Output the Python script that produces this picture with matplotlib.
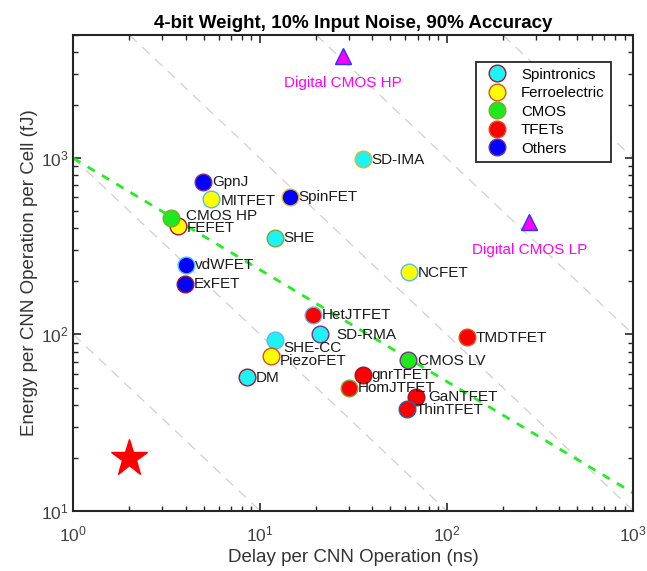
import numpy as np
import matplotlib
matplotlib.use("Agg")
import matplotlib.pyplot as plt
from matplotlib.lines import Line2D

plt.rcParams['font.family'] = ['Liberation Sans', 'DejaVu Sans']
plt.rcParams['mathtext.default'] = 'regular'

# device data: delay (ns), energy (fJ)
names = ['SHE', 'SHE-CC', 'SD-RMA', 'DM', 'SD-IMA',
         'MITFET', 'FEFET', 'PiezoFET', 'NCFET',
         'CMOS HP', 'CMOS LV',
         'HetJTFET', 'TMDTFET', 'gnrTFET', 'HomJTFET', 'GaNTFET', 'ThinTFET',
         'GpnJ', 'SpinFET', 'vdWFET', 'ExFET']
delay = [12.0, 12.0, 21.1, 8.5, 35.5,
         5.47, 3.65, 11.5, 63.0,
         3.34, 62.3,
         19.2, 128, 35.5, 30.0, 68.5, 61.5,
         4.97, 14.4, 4.01, 3.97]
energy = [354, 92.5, 100, 57, 987,
          585, 412, 75, 226,
          459, 71.8,
          129, 96.6, 58.5, 50, 44.4, 37.8,
          736, 603, 249, 194]
category = ['Spintronics'] * 5 + ['Ferroelectric'] * 4 + ['CMOS'] * 2 + ['TFETs'] * 6 + ['Others'] * 4

categories = ['Spintronics', 'Ferroelectric', 'CMOS', 'TFETs', 'Others']
cat_colors = {'Spintronics': '#1ef2f2', 'Ferroelectric': '#ffff00', 'CMOS': '#1de91d',
              'TFETs': '#ff0000', 'Others': '#0000ff'}

digital_names = ['Digital CMOS HP', 'Digital CMOS LP']
digital_delay = [27.9, 277]
digital_energy = [3820, 433]

target_delay = 2.0
target_energy = 20.0

# guide lines
edp_levels = [1e2, 1e3, 1e4, 1e5, 1e6]
fit_x = [1, 1000]
fit_y = [1000, 12.6]

# MATLAB colour order used for marker edges
mc = [(0, 0.447, 0.741), (0.85, 0.325, 0.098), (0.929, 0.694, 0.125),
      (0.494, 0.184, 0.556), (0.466, 0.674, 0.188), (0.301, 0.745, 0.933),
      (0.635, 0.078, 0.184)]
edge_idx = [4, 5, 3, 6, 2,
            5, 6, 1, 5,
            4, 3,
            5, 1, 6, 4, 6, 0,
            3, 2, 5, 6]
legend_edge = [6, 1, 4, 1, 3]

# label offsets in points (dx, dy)
offsets = {'GpnJ': (6.5, 0), 'MITFET': (7, -1), 'SpinFET': (6.5, 0), 'CMOS HP': (11, 1),
           'FEFET': (6, -1.5), 'SHE': (6, 0), 'vdWFET': (6.5, -0.5), 'ExFET': (6.5, -0.5),
           'HetJTFET': (6.5, 0), 'SD-RMA': (11.5, -0.5), 'SHE-CC': (6.5, -5.5),
           'PiezoFET': (6, -3), 'DM': (6.5, -0.5), 'gnrTFET': (6.5, 0.5),
           'HomJTFET': (6, -0.5), 'GaNTFET': (8.5, 0), 'ThinTFET': (6, -0.5),
           'CMOS LV': (7, -1), 'TMDTFET': (6.5, -0.5), 'SD-IMA': (6.5, -0.5), 'NCFET': (6, -0.5)}

fig = plt.figure(figsize=(6.47, 5.71), dpi=100)
ax = fig.add_axes([0.1133, 0.1056, 0.8655, 0.8331])
ax.set_xscale('log')
ax.set_yscale('log')
ax.set_xlim(1, 1000)
ax.set_ylim(10, 5000)

xx = np.array([1, 1000.0])
for c in edp_levels:
    ax.plot(xx, c / xx, color='#d0d0d0', lw=0.9, ls=(0, (8, 6)), zorder=1)
ax.plot(fit_x, fit_y, color='#22ee22', lw=2, ls=(0, (3, 3)), zorder=2)

for n, d, e, cat, ei in zip(names, delay, energy, category, edge_idx):
    ax.plot(d, e, 'o', ms=12, mfc=cat_colors[cat], mec=mc[ei], mew=1, zorder=3)
    ax.annotate(n, (d, e), xytext=offsets[n], textcoords='offset points',
                ha='left', va='center', fontsize=11, color='#1a1a1a', zorder=4)

ax.plot(digital_delay, digital_energy, '^', ms=12, mfc='#ff00ff', mec='#3030ff', mew=1, zorder=3)
for n, d, e in zip(digital_names, digital_delay, digital_energy):
    ax.annotate(n, (d, e), xytext=(0, -20), textcoords='offset points',
                ha='center', va='center', fontsize=11, color='#ff00ff')

ax.plot(target_delay, target_energy, '*', ms=28, color='#ff0000', mec='#ff0000', zorder=3)

handles = [Line2D([], [], ls='none', marker='o', ms=12, mfc=cat_colors[c], mec=mc[ei], mew=1)
           for c, ei in zip(categories, legend_edge)]
leg = ax.legend(handles, categories, loc='upper left', bbox_to_anchor=(0.719, 0.944),
                borderaxespad=0, fancybox=False, fontsize=10.8, handletextpad=0.6,
                labelspacing=0.3, borderpad=0.4, framealpha=1)
leg.get_frame().set_edgecolor('#262626')
leg.get_frame().set_linewidth(1.3)

ax.set_title('4-bit Weight, 10% Input Noise, 90% Accuracy', fontsize=13.5, fontweight='bold', pad=5)
ax.set_xlabel('Delay per CNN Operation (ns)', fontsize=13.5, color='#333333', labelpad=3)
ax.set_ylabel('Energy per CNN Operation per Cell (fJ)', fontsize=13.5, color='#333333', labelpad=2)

for s in ax.spines.values():
    s.set_linewidth(1.5)
    s.set_color('#262626')
ax.tick_params(which='both', direction='in', top=True, right=True, colors='#262626',
               labelcolor='#404040', labelsize=12.5)
ax.tick_params(which='major', length=6, width=1.2)
ax.tick_params(which='minor', length=3.5, width=1)
ax.tick_params(axis='x', pad=10)

fig.savefig('out.png', dpi=100)
